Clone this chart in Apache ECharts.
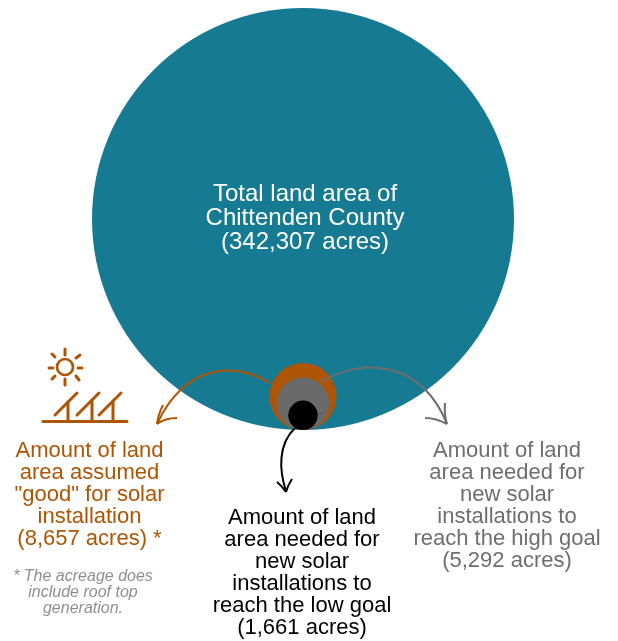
<!DOCTYPE html>
<html><head><meta charset="utf-8">
<style>html,body{margin:0;padding:0;background:#fff}#c{width:618px;height:641px}</style>
<script src="https://cdn.jsdelivr.net/npm/echarts@6/dist/echarts.min.js"></script>
</head><body><div id="c"></div>
<script>
const names = ['Total land area of Chittenden County','Land assumed good for solar','High goal','Low goal'];
const acres = [342307, 8657, 5292, 1661];
const colors = ['#157a92','#ae5505','#6a6a6a','#000000'];
const centerX = [303, 303, 303, 303];
const bottomY = 430;
const pxPerRootAcre = 211 / Math.sqrt(342307);
const radius = v => Math.sqrt(v) * pxPerRootAcre;

const chart = echarts.init(document.getElementById('c'), null, {renderer:'canvas'});
const font = '"Liberation Sans", Arial, sans-serif';
const label = (cx, y, lines, color, size, lh, style) => ({
  type:'text', silent:true, z:20, style:{ x:cx, y, text:lines.join('\n'), fill:color, font:(style||'')+' '+size+'px '+font, lineHeight:lh, align:'center', verticalAlign:'top' }
});
const curve = (pts, color) => ({ type:'bezierCurve', silent:true, z:20,
  shape:{x1:pts[0],y1:pts[1],cpx1:pts[2],cpy1:pts[3],cpx2:pts[4],cpy2:pts[5],x2:pts[6],y2:pts[7]},
  style:{stroke:color,lineWidth:2,fill:null} });
const barb = (x1,y1,cx,cy,x2,y2,color) => ({ type:'bezierCurve', silent:true, z:20, shape:{x1,y1,cpx1:cx,cpy1:cy,x2,y2}, style:{stroke:color,lineWidth:2,fill:null} });
const seg = (x1,y1,x2,y2,w) => ({ type:'line', silent:true, z:20, shape:{x1,y1,x2,y2}, style:{stroke:colors[1],lineWidth:w,lineCap:'round'} });

const orange = colors[1], gray = '#6e6e6e';
const graphics = [
  label(305,182,['Total land area of','Chittenden County','(342,307 acres)'],'#ffffff',24,24),
  label(89.5,440,['Amount of land','area assumed','"good" for solar','installation','(8,657 acres) *'],orange,22,22),
  label(507,440,['Amount of land','area needed for','new solar','installations to','reach the high goal','(5,292 acres)'],gray,22,22),
  label(302,507,['Amount of land','area needed for','new solar','installations to','reach the low goal','(1,661 acres)'],'#000000',22,22),
  label(83,569,['* The acreage does','include roof top','generation.'],'#8f8f8f',16,16,'italic'),
  // arrows
  curve([270,383, 235,361, 185,364, 157,424],orange),
  barb(163,405,158,415,157,424,orange),
  barb(157,424,165,418,177,418,orange),
  curve([321,382, 365,356, 422,362, 447,424],gray),
  barb(445,403,444,415,447,424,gray),
  barb(447,424,436,418,425,418,gray),
  curve([295,428, 278,444, 279,470, 286,491],'#000000'),
  barb(277,482,282,486,286,492,'#000000'),
  barb(286,492,288,485,292,479,'#000000'),
  {type:'line',silent:true,z:20,shape:{x1:318,y1:414,x2:323,y2:413},style:{stroke:'#555555',lineWidth:1}},
  // icon: sun
  {type:'circle',silent:true,z:20,shape:{cx:65,cy:367,r:8},style:{stroke:orange,lineWidth:2.6,fill:null}},
  seg(65,349,65,355,3),seg(65,379,65,385,3),seg(49,368,53,368,3),seg(78,368,82,368,3),
  seg(52,354,55,357,3),seg(80,355,76,358,3),seg(52,379,55,376,3),seg(79,380,76,376,3),
  // icon: panels
  seg(43,421.5,127,421.5,3),
  seg(55,415,77,393,3),seg(77,415,99,393,3),seg(99,415,121,393,3),
  seg(68,402,68,421,3),seg(92,400,92,421,3),seg(113,401,113,421,3)
];

chart.setOption({
  animation:false,
  backgroundColor:'#ffffff',
  grid:{left:0,right:0,top:0,bottom:0},
  xAxis:{type:'value',min:0,max:618,show:false},
  yAxis:{type:'value',min:0,max:641,inverse:true,show:false},
  series:[{
    type:'scatter',
    silent:true,
    symbol:'circle',
    data:acres.map((v,i)=>({
      name:names[i],
      value:[centerX[i], bottomY - radius(v), v],
      symbolSize:radius(v)*2,
      itemStyle:{color:colors[i],opacity:1}
    }))
  }],
  graphic:graphics
});
</script></body></html>
